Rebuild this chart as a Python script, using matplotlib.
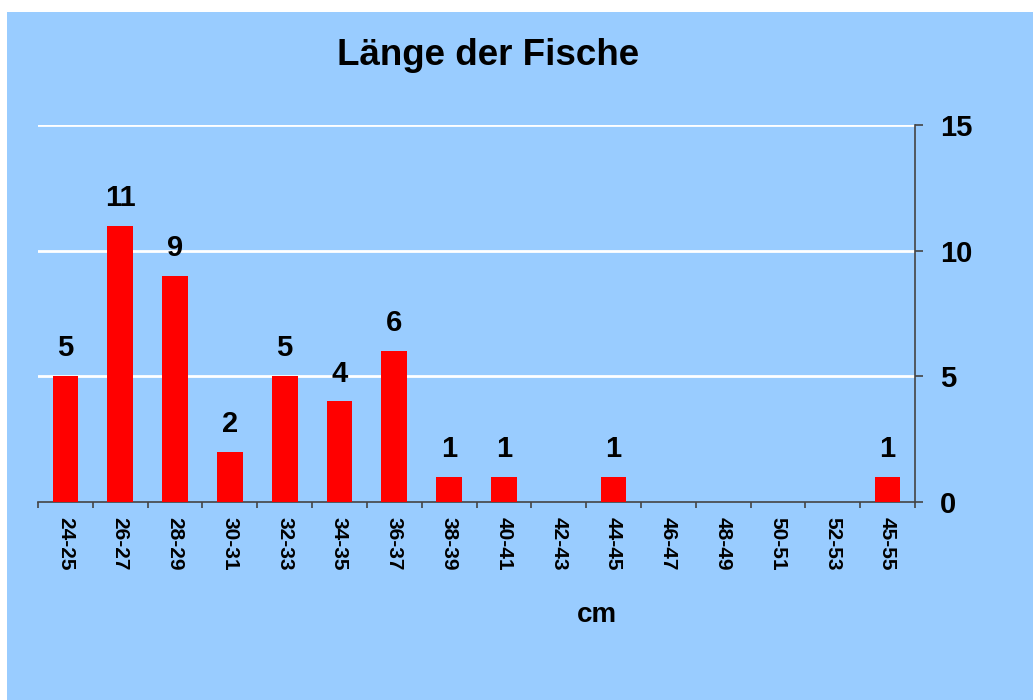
import matplotlib
matplotlib.use("Agg")
import matplotlib.pyplot as plt
from matplotlib.patches import Rectangle

categories = ["24-25", "26-27", "28-29", "30-31", "32-33", "34-35", "36-37", "38-39",
              "40-41", "42-43", "44-45", "46-47", "48-49", "50-51", "52-53", "45-55"]
counts = [5, 11, 9, 2, 5, 4, 6, 1, 1, 0, 1, 0, 0, 0, 0, 1]
yticks = [0, 5, 10, 15]

W, H = 1033, 700
bg = "#99CCFF"
plt.rcParams['font.family'] = ['Liberation Sans', 'DejaVu Sans']

fig = plt.figure(figsize=(W / 100, H / 100), dpi=100)
fig.patch.set_facecolor("white")
fig.patches.append(Rectangle((7 / W, 0), 1 - 7 / W, 1 - 12 / H, transform=fig.transFigure,
                             facecolor=bg, edgecolor="none", zorder=-10))

ax = fig.add_axes([38 / W, 1 - 502 / H, (915 - 38) / W, (502 - 125) / H])
ax.set_facecolor(bg)
x = list(range(len(categories)))
ax.bar(x, counts, width=0.47, color="#FF0000", zorder=3)
for xi, c in zip(x, counts):
    if c > 0:
        ax.annotate(str(c), (xi, c), xytext=(0, 10), textcoords="offset points",
                    ha="center", va="bottom", fontsize=21, fontweight="bold", color="black")

ax.set_xlim(-0.5, len(categories) - 0.5)
ax.set_ylim(0, 15)
ax.yaxis.tick_right()
ax.set_yticks(yticks)
ax.set_yticklabels([str(v) for v in yticks], fontsize=21, fontweight="bold")
ax.tick_params(axis="y", direction="out", length=5.8, pad=12, color="#444444", width=1.2)
ax.set_xticks([i - 0.5 for i in range(len(categories) + 1)])
ax.set_xticklabels([])
ax.set_xticks(x, minor=True)
ax.set_xticklabels(categories, minor=True, rotation=270, fontsize=15, fontweight="bold")
ax.tick_params(axis="x", which="major", direction="out", length=4.3, color="#444444", width=1.2)
ax.tick_params(axis="x", which="minor", length=0, pad=11)
for lbl in ax.get_xticklabels(minor=True):
    lbl.set_va("top")
    lbl.set_ha("center")

for s in ["top", "left"]:
    ax.spines[s].set_visible(False)
for s in ["right", "bottom"]:
    ax.spines[s].set_color("#444444")
    ax.spines[s].set_linewidth(1.2)

for v in yticks[1:]:
    ax.axhline(v, color="white", linewidth=2, zorder=1)

fig.text(488 / W, 1 - 65 / H, "Länge der Fische", ha="center", va="baseline",
         fontsize=26.5, fontweight="bold")
fig.text(597 / W, 1 - 622 / H, "cm", ha="center", va="baseline", fontsize=20, fontweight="bold")

fig.savefig("out.png", dpi=100, facecolor=fig.get_facecolor())
